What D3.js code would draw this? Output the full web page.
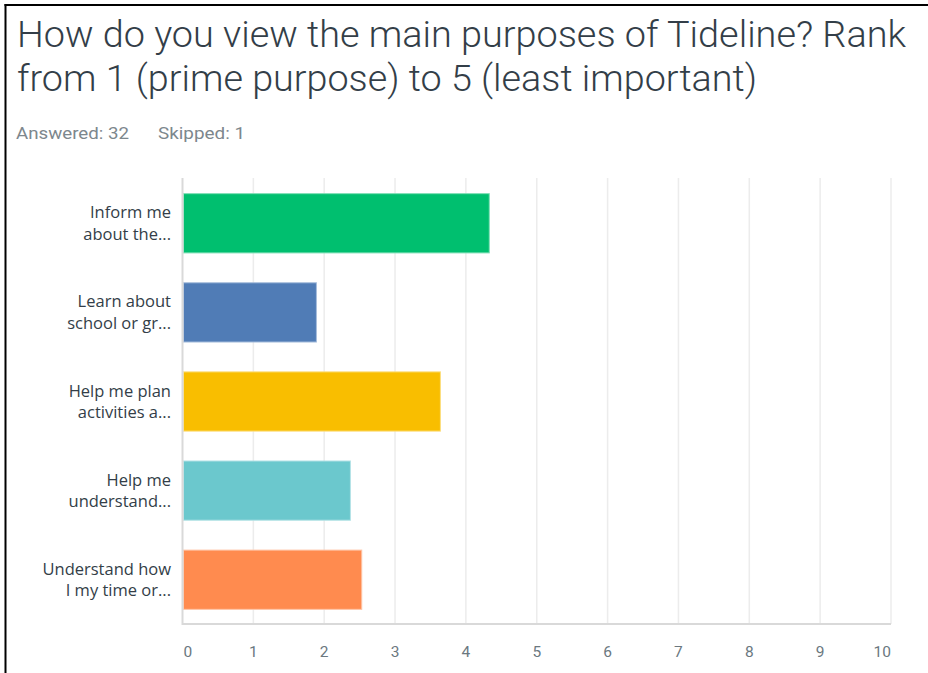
<!DOCTYPE html>
<html>
<head>
<meta charset="utf-8">
<script src="https://cdn.jsdelivr.net/npm/d3@7"></script>
<style>
  html, body { margin: 0; padding: 0; background: #fff; }
  svg { display: block; }
</style>
</head>
<body>
<svg id="chart" width="928" height="673"></svg>
<script>
const titleLines = ["How do you view the main purposes of Tideline? Rank",
                    "from 1 (prime purpose) to 5 (least important)"];
const answered = "Answered: 32";
const skipped = "Skipped: 1";
const categories = [
  ["Inform me", "about the..."],
  ["Learn about", "school or gr..."],
  ["Help me plan", "activities a..."],
  ["Help me", "understand..."],
  ["Understand how", "I my time or..."]
];
const values = [4.33, 1.89, 3.64, 2.37, 2.53];
const colors = ["#00BF6F", "#507CB6", "#F9BE00", "#6BC8CD", "#FF8B4F"];
const strokes = ["#7fdfb6", "#a7bddb", "#fcde7f", "#b5e3e6", "#ffc5a7"];
const xTicks = [0, 1, 2, 3, 4, 5, 6, 7, 8, 9, 10];

const svg = d3.select("#chart");

svg.append("rect").attr("x", 0).attr("y", 0).attr("width", 928).attr("height", 673).attr("fill", "#fff");
svg.append("line").attr("x1", 5.5).attr("x2", 5.5).attr("y1", 4).attr("y2", 673)
  .attr("stroke", "#000").attr("stroke-width", 2);
svg.append("line").attr("x1", 4.5).attr("x2", 928).attr("y1", 5).attr("y2", 5)
  .attr("stroke", "#000").attr("stroke-width", 2);

const titleWidths = [889, 740];
titleLines.forEach((t, i) => {
  svg.append("text")
    .attr("x", 17).attr("y", 47 + i * 44)
    .attr("font-family", "Roboto, 'Open Sans', sans-serif")
    .attr("font-weight", 300)
    .attr("font-size", 37)
    .attr("fill", "#333e48")
    .attr("textLength", titleWidths[i])
    .attr("lengthAdjust", "spacingAndGlyphs")
    .text(t);
});

svg.append("text").attr("x", 16).attr("y", 139)
  .attr("font-family", "Roboto, sans-serif").attr("font-size", 16)
  .attr("fill", "#7d878d").attr("textLength", 113).attr("lengthAdjust", "spacingAndGlyphs")
  .text(answered);
svg.append("text").attr("x", 158).attr("y", 139)
  .attr("font-family", "Roboto, sans-serif").attr("font-size", 16)
  .attr("fill", "#7d878d").attr("textLength", 87).attr("lengthAdjust", "spacingAndGlyphs")
  .text(skipped);

const plotLeft = 182.5, plotRight = 891, plotTop = 178, plotBottom = 624;
const x = d3.scaleLinear().domain([0, 10]).range([plotLeft, plotRight]);
const y = d3.scaleBand().domain(d3.range(categories.length)).range([plotTop, plotBottom])
  .paddingInner(0.335).paddingOuter(0.17);

svg.append("g").selectAll("line").data(xTicks.slice(1)).join("line")
  .attr("x1", d => x(d)).attr("x2", d => x(d))
  .attr("y1", plotTop).attr("y2", plotBottom)
  .attr("stroke", "#ececec").attr("stroke-width", 1.5);

svg.append("g").selectAll("rect").data(values).join("rect")
  .attr("x", x(0) + 1)
  .attr("y", (d, i) => y(i) + 0.5)
  .attr("width", d => x(d) - x(0) - 1)
  .attr("height", y.bandwidth())
  .attr("fill", (d, i) => colors[i])
  .attr("stroke", (d, i) => strokes[i])
  .attr("stroke-width", 1);

svg.append("line").attr("x1", plotLeft).attr("x2", plotLeft).attr("y1", plotTop).attr("y2", plotBottom + 1)
  .attr("stroke", "#d9d9d9").attr("stroke-width", 2);
svg.append("line").attr("x1", plotLeft).attr("x2", plotRight).attr("y1", plotBottom).attr("y2", plotBottom)
  .attr("stroke", "#d9d9d9").attr("stroke-width", 2);

svg.append("g").selectAll("text").data(xTicks).join("text")
  .attr("x", d => x(d))
  .attr("y", 657)
  .attr("text-anchor", (d, i) => i === 0 ? "start" : (i === xTicks.length - 1 ? "end" : "middle"))
  .attr("dx", (d, i) => i === 0 ? 1 : 0)
  .attr("font-family", "Roboto, sans-serif").attr("font-size", 15.5)
  .attr("fill", "#6b787f")
  .text(d => d);

const yl = svg.append("g").selectAll("text").data(categories).join("text")
  .attr("text-anchor", "end")
  .attr("font-family", "'Open Sans', 'Noto Sans', sans-serif").attr("font-size", 16.5)
  .attr("fill", "#333e48");
yl.each(function(d, i) {
  const cy = y(i) + y.bandwidth() / 2;
  d.forEach((line, j) => {
    d3.select(this).append("tspan").attr("x", 171).attr("y", cy - 4.5 + j * 21.5).text(line);
  });
});
</script>
</body>
</html>
